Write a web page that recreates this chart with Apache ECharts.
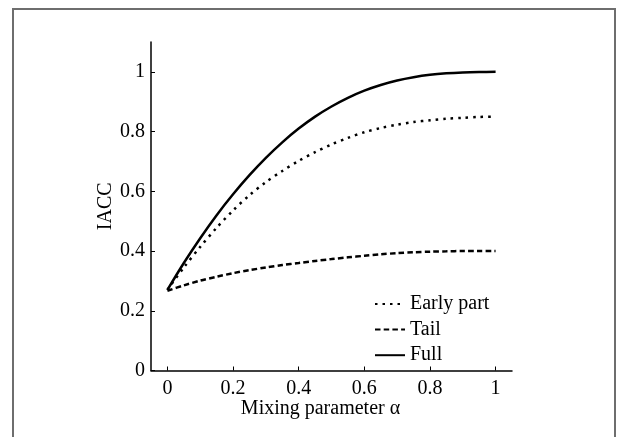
<!DOCTYPE html>
<html>
<head>
<meta charset="utf-8">
<script src="https://cdn.jsdelivr.net/npm/echarts@6/dist/echarts.min.js"></script>
<style>
html,body{margin:0;padding:0;background:#fff;}
#chart{width:628px;height:437px;}
</style>
</head>
<body>
<div id="chart"></div>
<script>
// mixing parameter alpha
var alpha = [0, 0.05, 0.1, 0.15, 0.2, 0.25, 0.3, 0.35, 0.4, 0.45, 0.5,
             0.55, 0.6, 0.65, 0.7, 0.75, 0.8, 0.85, 0.9, 0.95, 1];
var earlyPart = [0.27, 0.345, 0.414, 0.478, 0.536, 0.587, 0.631, 0.668, 0.702, 0.731, 0.757,
                 0.779, 0.798, 0.812, 0.823, 0.832, 0.838, 0.843, 0.846, 0.849, 0.85];
var tail = [0.267, 0.285, 0.301, 0.314, 0.326, 0.336, 0.345, 0.353, 0.36, 0.367, 0.373,
            0.379, 0.384, 0.389, 0.393, 0.396, 0.398, 0.399, 0.4, 0.4, 0.4];
var full = [0.27, 0.36, 0.443, 0.52, 0.59, 0.654, 0.712, 0.764, 0.81, 0.85, 0.884,
            0.913, 0.937, 0.956, 0.971, 0.982, 0.99, 0.995, 0.998, 0.9995, 1];
var xTicks = [0, 0.2, 0.4, 0.6, 0.8, 1];
var yTicks = [0, 0.2, 0.4, 0.6, 0.8, 1];
var names = ['Early part', 'Tail', 'Full'];

var font = 'Liberation Serif';

function pairs(ys){
    var out = [];
    for (var i = 0; i < alpha.length; i++) out.push([alpha[i], ys[i]]);
    return out;
}

var lineTypes = [[2.5, 5], [5.5, 3.2], 'solid'];
var seriesValues = [earlyPart, tail, full];
var serieData = [];
for (var v = 0; v < names.length; v++) {
    serieData.push({
        name: names[v],
        type: 'line',
        symbol: 'none',
        smooth: 0.3,
        lineStyle: {color: '#000', width: 2.5, type: lineTypes[v], cap: 'butt'},
        itemStyle: {color: '#000'},
        data: pairs(seriesValues[v])
    });
}

var option = {
    animation: false,
    backgroundColor: '#fff',
    graphic: [{
        type: 'polyline',
        shape: {points: [[13, 437], [13, 9], [615, 9], [615, 437]]},
        style: {stroke: '#6e6e6e', lineWidth: 2, fill: null}
    }],
    grid: {left: 151, top: 42, width: 361, height: 328.5},
    legend: {
        orient: 'vertical', left: 369, top: 289,
        itemWidth: 30, itemHeight: 14, itemGap: 5.6,
        data: names,
        itemStyle: {color: 'rgba(0,0,0,0)', borderWidth: 0, opacity: 0},
        textStyle: {fontFamily: font, fontSize: 20, lineHeight: 20, color: '#000'}
    },
    xAxis: {
        type: 'value', min: -0.05, max: 1.05,
        name: 'Mixing parameter α', nameLocation: 'middle', nameGap: 28, nameMoveOverlap: false,
        nameTextStyle: {fontFamily: font, fontSize: 20, color: '#000', padding: [0, 22, 0, 0]},
        splitLine: {show: false},
        axisLine: {onZero: false, lineStyle: {color: '#000', width: 1.5}},
        axisTick: {inside: true, length: 4, customValues: xTicks, lineStyle: {color: '#000'}},
        axisLabel: {customValues: xTicks, fontFamily: font, fontSize: 20, color: '#000', margin: 8}
    },
    yAxis: {
        type: 'value', min: 0, max: 1.1,
        name: 'IACC', nameLocation: 'middle', nameGap: 35, nameRotate: 90, nameMoveOverlap: false,
        nameTextStyle: {fontFamily: font, fontSize: 20, color: '#000'},
        splitLine: {show: false},
        axisLine: {show: true, onZero: false, lineStyle: {color: '#000', width: 1.5}},
        axisTick: {show: true, inside: true, length: 4, customValues: yTicks, lineStyle: {color: '#000'}},
        axisLabel: {customValues: yTicks, fontFamily: font, fontSize: 20, color: '#000', margin: 6}
    },
    series: serieData
};

var myChart = echarts.init(document.getElementById('chart'));
myChart.setOption(option);
</script>
</body>
</html>
